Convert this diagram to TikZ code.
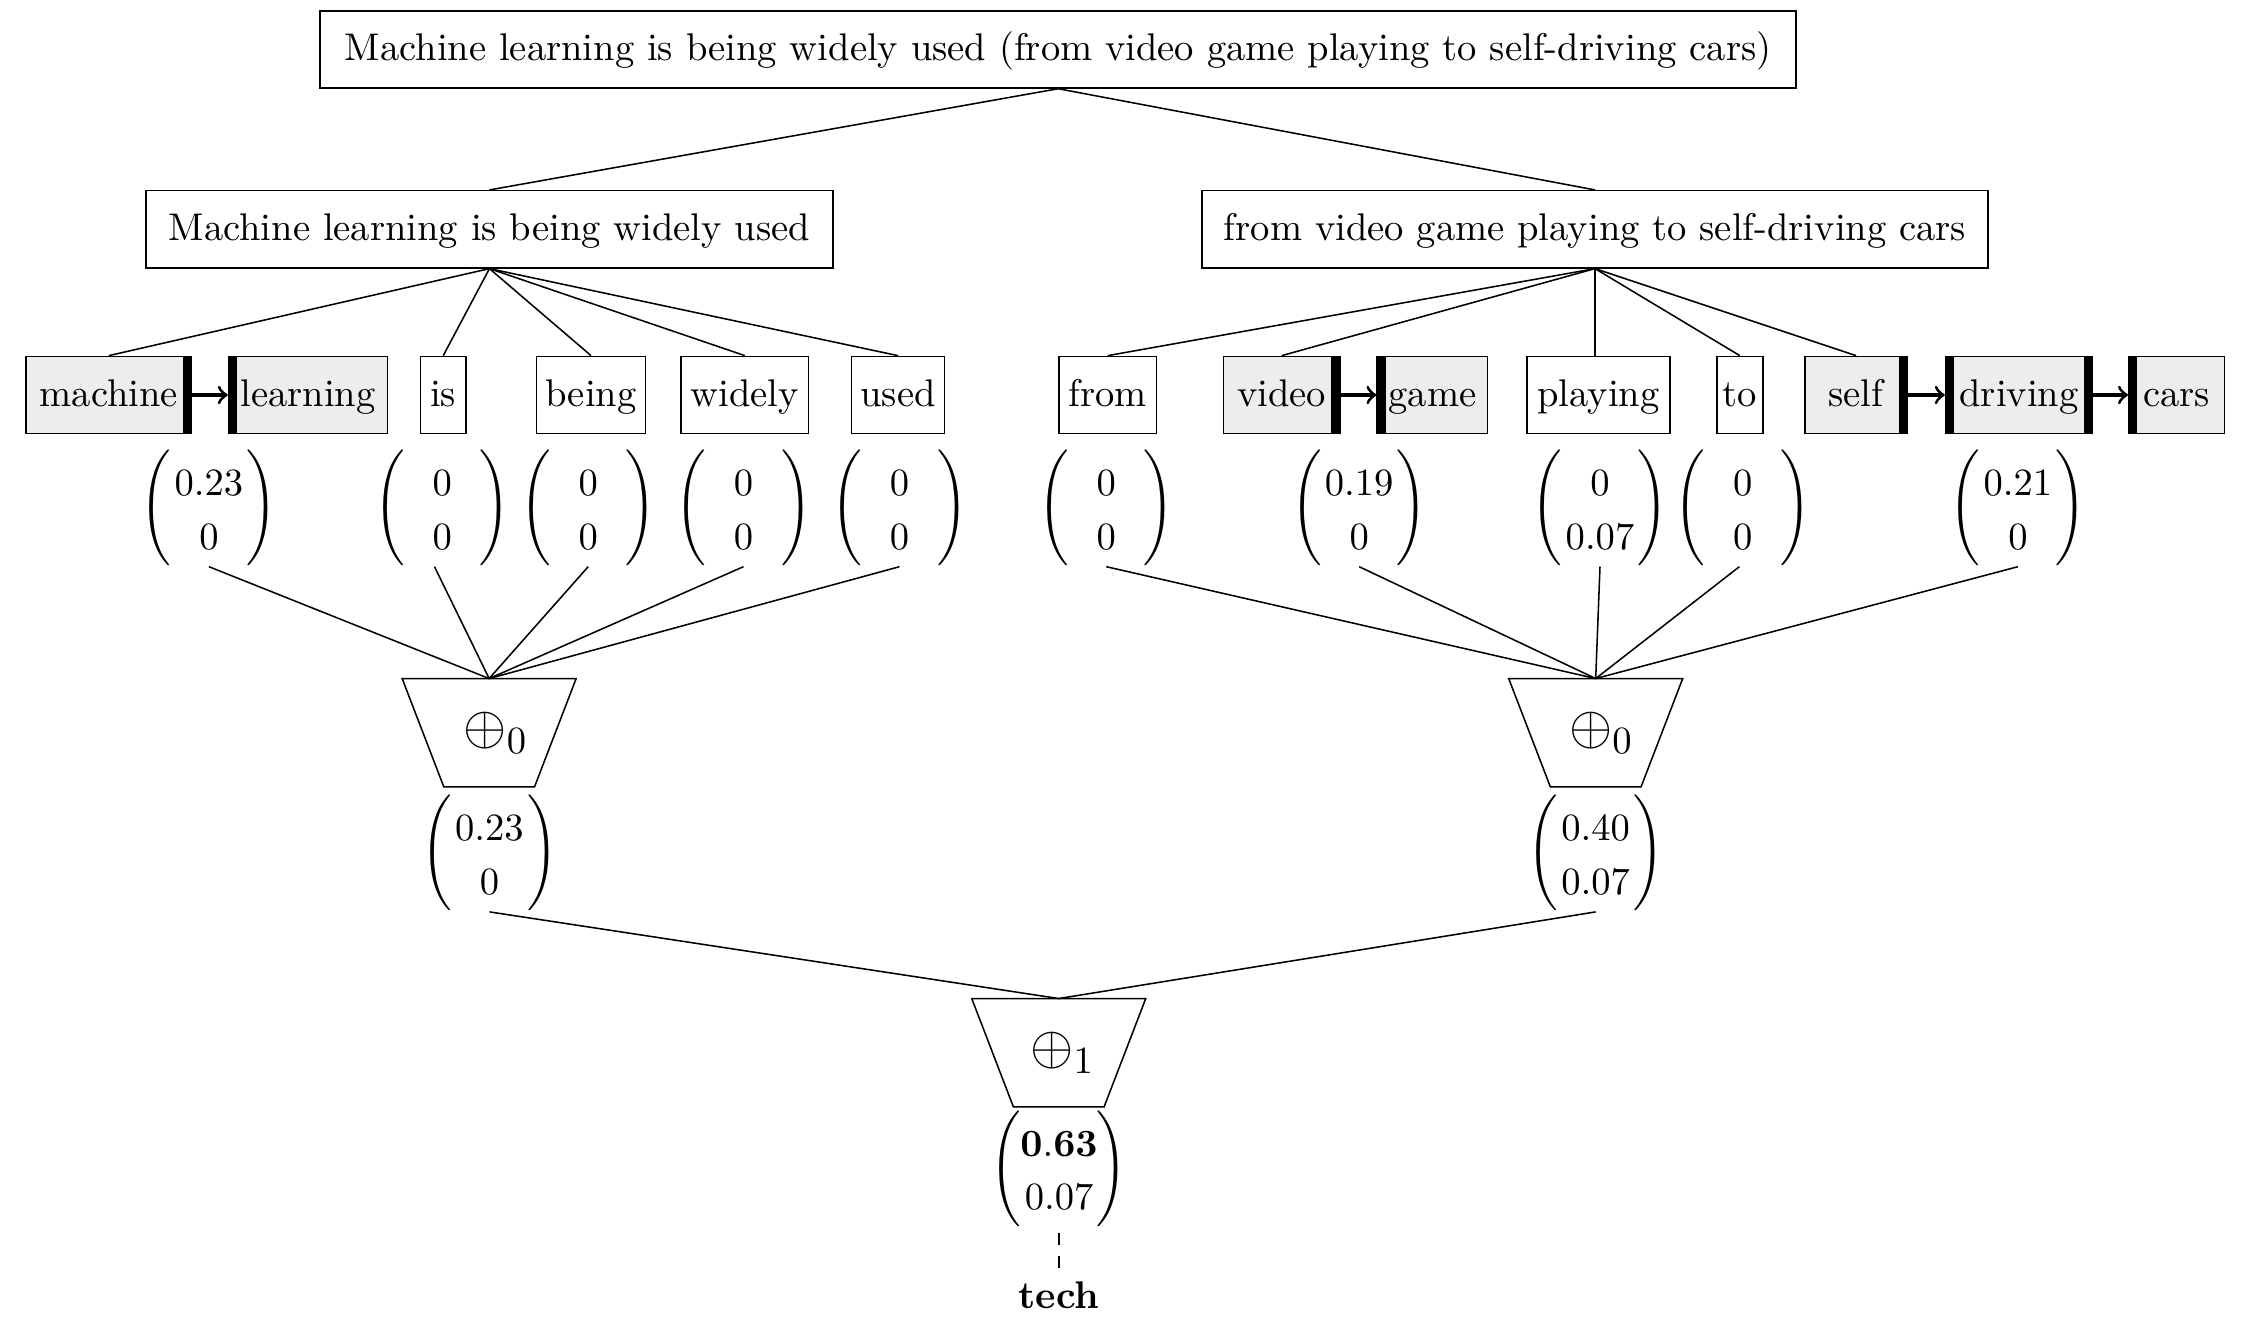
\documentclass[tikz,border=0pt]{standalone}
\usepackage{amsmath}
\definecolor{boxgray}{HTML}{EDEDED}
\newcommand{\vecpair}[2]{$\renewcommand{\arraystretch}{1.16}\left(\raisebox{-1pt}{$\begin{array}{@{}c@{}}\makebox[19.5pt]{$#1$}\\ #2\end{array}$}\right)$}
\newcommand{\rbar}[1]{\draw[bar] ([xshift=-1.2pt]#1.north east) -- ([xshift=-1.2pt]#1.south east);}
\newcommand{\lbar}[1]{\draw[bar] ([xshift=1.2pt]#1.north west) -- ([xshift=1.2pt]#1.south west);}
\newcommand{\trapdraw}[1]{\draw (#1.north west) -- (#1.north east) -- ([xshift=-10.8pt]#1.south east) -- ([xshift=10.8pt]#1.south west) -- cycle;}
\begin{document}
\begin{tikzpicture}[x=0.371pt,y=-0.371pt,
  wbox/.style={draw, minimum height=20pt, text height=8pt, text depth=2pt, inner xsep=0pt, inner ysep=0pt},
  gbox/.style={wbox, fill=boxgray},
  vecn/.style={inner sep=0pt},
  trap/.style={inner sep=0pt, minimum width=44.7pt, minimum height=27.7pt, font=\Large},
  link/.style={thick,->},
  bar/.style={line width=2.4pt}]
\useasboundingbox (0,0) rectangle (1568,926.5);

% sentence boxes
\node[wbox, minimum width=382.6pt] (top) at (739.4,34.5) {Machine learning is being widely used (from video game playing to self-driving cars)};
\node[wbox, minimum width=178.1pt] (l2l) at (342,160.2) {Machine learning is being widely used};
\node[wbox, minimum width=203.7pt] (l2r) at (1114.5,160.2) {from video game playing to self-driving cars};

% word boxes
\node[gbox, minimum width=42.85pt] (machine) at (76,276) {machine};
\node[gbox, minimum width=41.26pt] (learning) at (215.3,276) {learning};
\node[wbox, minimum width=11.87pt] (is) at (309.7,276) {is};
\node[wbox, minimum width=28.2pt] (being) at (413,276) {being};
\node[wbox, minimum width=33.0pt] (widely) at (520.5,276) {widely};
\node[wbox, minimum width=24.1pt] (used) at (627.5,276) {used};
\node[wbox, minimum width=25.2pt] (from) at (774,276) {from};
\node[gbox, minimum width=30.2pt] (video) at (895.6,276) {video};
\node[gbox, minimum width=28.6pt] (game) at (1000.9,276) {game};
\node[wbox, minimum width=37.1pt] (playing) at (1117,276) {playing};
\node[wbox, minimum width=11.9pt] (to) at (1215.7,276) {to};
\node[gbox, minimum width=26.6pt] (self) at (1296.9,276) {self};
\node[gbox, minimum width=38.1pt] (driving) at (1410.8,276) {driving};
\node[gbox, minimum width=24.8pt] (cars) at (1520.9,276) {cars};

\rbar{machine}
\lbar{learning}
\rbar{video}
\lbar{game}
\rbar{self}
\lbar{driving}
\rbar{driving}
\lbar{cars}

\draw[link] (machine) -- (learning);
\draw[link] (video) -- (game);
\draw[link] (self) -- (driving);
\draw[link] (driving) -- (cars);

% tree edges
\draw (top.south) -- (l2l.north);
\draw (top.south) -- (l2r.north);
\foreach \w in {machine,is,being,widely,used} \draw (l2l.south) -- (\w.north);
\foreach \w in {from,video,to,self} \draw (l2r.south) -- (\w.north);
\draw (l2r.south) -- (l2r.south |- playing.north);

% vectors
\node[vecn] (vml) at (146,355) {\vecpair{0.23}{0}};
\node[vecn] (vis) at (309,355) {\vecpair{0}{0}};
\node[vecn] (vbeing) at (411,355) {\vecpair{0}{0}};
\node[vecn] (vwidely) at (519.5,355) {\vecpair{0}{0}};
\node[vecn] (vused) at (628.5,355) {\vecpair{0}{0}};
\node[vecn] (vfrom) at (773,355) {\vecpair{0}{0}};
\node[vecn] (vvg) at (949.7,355) {\vecpair{0.19}{0}};
\node[vecn] (vplaying) at (1118,355) {\vecpair{0}{0.07}};
\node[vecn] (vto) at (1217.8,355) {\vecpair{0}{0}};
\node[vecn] (vsdc) at (1410,355) {\vecpair{0.21}{0}};

% aggregation
\node[trap] (t0l) at (341.8,512) {\hspace*{3.5pt}$\oplus_0$};
\node[trap] (t0r) at (1115,512) {\hspace*{3pt}$\oplus_0$};
\trapdraw{t0l}
\trapdraw{t0r}

\foreach \v in {vml,vbeing,vwidely,vused} \draw (\v.south) -- (t0l.north);
\draw ([xshift=-2pt]vis.south) -- (t0l.north);
\foreach \v in {vfrom,vvg,vplaying,vsdc} \draw (\v.south) -- (t0r.north);
\draw ([xshift=-0.9pt]vto.south) -- (t0r.north);

\node[vecn] (vl) at (342,596.2) {\vecpair{0.23}{0}};
\node[vecn] (vr) at (1115,596.2) {\vecpair{0.40}{0.07}};

\node[trap] (t1) at (739.8,735.6) {\hspace*{2pt}$\oplus_1$};
\trapdraw{t1}
\draw (vl.south) -- (t1.north);
\draw (vr.south) -- (t1.north);

\node[vecn] (vb) at (740,816.5) {\vecpair{\mathbf{0.63}}{0.07}};
\node[anchor=base] (tech) at (740,914) {\textbf{tech}};
\draw[dashed] (tech) -- (vb);
\end{tikzpicture}
\end{document}
